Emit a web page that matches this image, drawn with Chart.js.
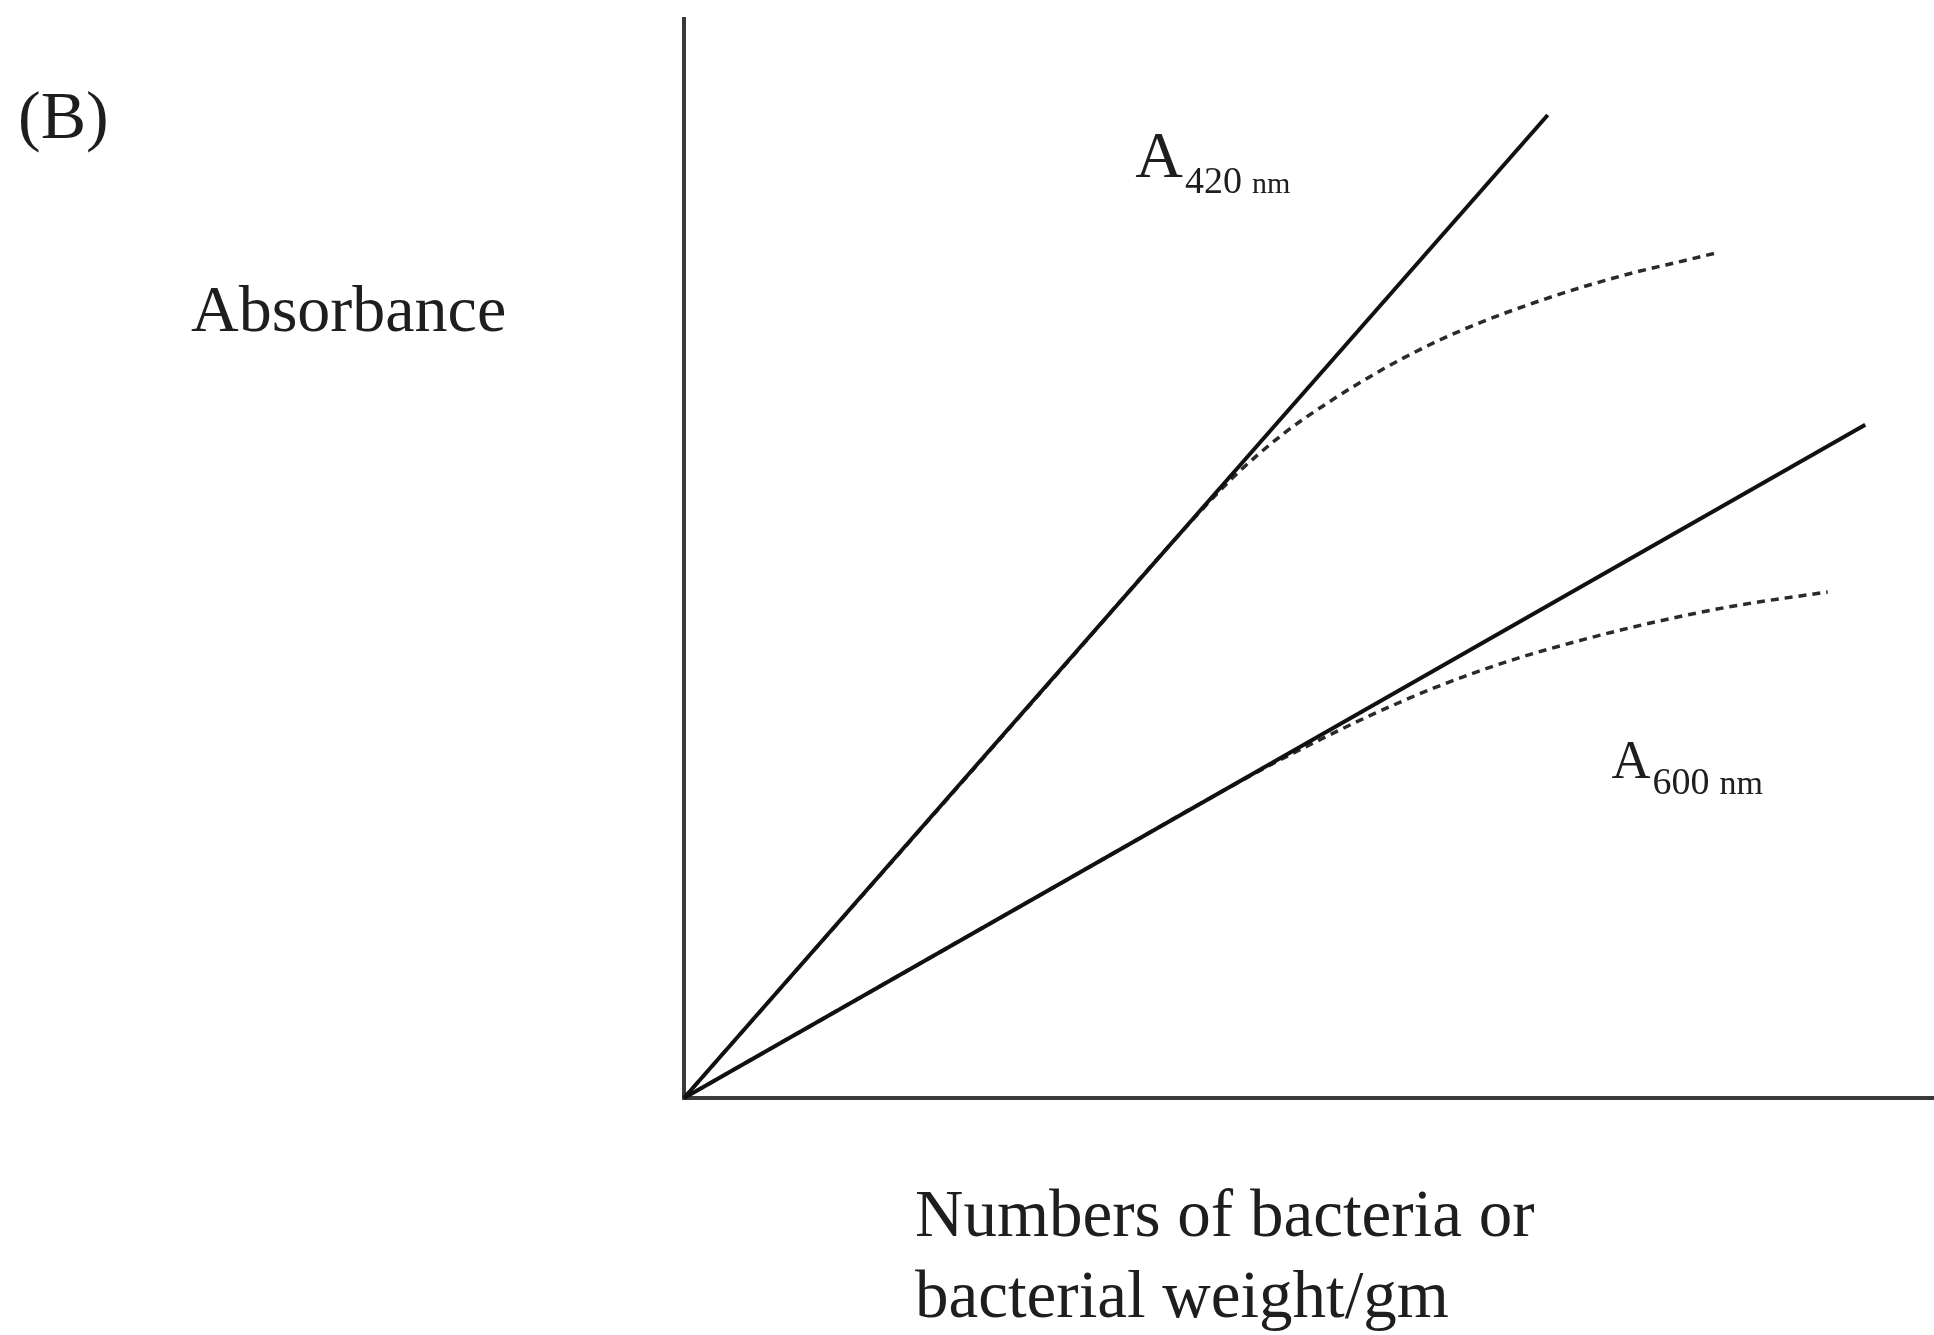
<!DOCTYPE html>
<html>
<head>
<meta charset="utf-8">
<title>Absorbance vs bacteria</title>
<script src="https://cdn.jsdelivr.net/npm/chart.js@4.4.1/dist/chart.umd.min.js"></script>
<style>
  html, body { margin: 0; padding: 0; background: #ffffff; }
  canvas { display: block; }
</style>
</head>
<body>
<canvas id="c" width="1934" height="1335"></canvas>
<script>
// Linear response at 420 nm (straight line from the origin)
const lin420X = [0, 69.1];
const lin420Y = [0, 91.1];
// Linear response at 600 nm
const lin600X = [0, 94.5];
const lin600Y = [0, 62.4];
// Observed (saturating) response at 420 nm
const obs420X = [0, 30, 40, 44, 48, 52, 56, 60, 64, 68, 72, 76, 80, 82.5];
const obs420Y = [0, 39.5, 52.7, 57.6, 61.6, 64.8, 67.6, 70.0, 72.0, 73.7, 75.2, 76.5, 77.6, 78.3];
// Observed (saturating) response at 600 nm
const obs600X = [0, 30, 46, 50, 55, 60, 66, 72, 78, 84, 91.5];
const obs600Y = [0, 19.8, 30.3, 32.7, 35.5, 38.0, 40.5, 42.5, 44.2, 45.6, 46.9];

const curveLabels = ['A', 'A'];
const curveSubs = ['420', '600'];
const curveUnits = ['nm', 'nm'];
const panelLabel = '(B)';
const yTitle = 'Absorbance';
const xTitleLines = ['Numbers of bacteria or', 'bacterial weight/gm'];

const pts = (xs, ys) => xs.map((x, i) => ({ x: x, y: ys[i] }));

const SERIF = '"Liberation Serif", "DejaVu Serif", serif';
const INK = '#1e1e1e';

// where each wavelength label sits, in data units (baseline-left of the "A")
const labelAnchors = [
  { x: 36.1, y: 85.4, big: 66, sub: 38, unit: 30, gap: 10 },
  { x: 74.2, y: 29.7, big: 54, sub: 38, unit: 34, gap: 10 }
];

const textPlugin = {
  id: 'chartText',
  afterDraw(chart) {
    const ctx = chart.ctx;
    const xs = chart.scales.x, ys = chart.scales.y;
    ctx.save();
    ctx.fillStyle = INK;
    ctx.textBaseline = 'alphabetic';
    ctx.textAlign = 'left';

    // panel letter and y title
    ctx.font = '68px ' + SERIF;
    ctx.fillText(panelLabel, 18, 138);
    ctx.font = '66px ' + SERIF;
    ctx.fillText(yTitle, 191, 331);

    // x title, two left-aligned lines
    ctx.font = '67px ' + SERIF;
    ctx.fillText(xTitleLines[0], 915, 1236);
    ctx.fillText(xTitleLines[1], 915, 1317);

    // wavelength labels
    labelAnchors.forEach((a, i) => {
      let px = xs.getPixelForValue(a.x);
      const py = ys.getPixelForValue(a.y);
      ctx.font = a.big + 'px ' + SERIF;
      ctx.fillText(curveLabels[i], px, py);
      px += ctx.measureText(curveLabels[i]).width + 2;
      ctx.font = a.sub + 'px ' + SERIF;
      ctx.fillText(curveSubs[i], px, py + 16);
      px += ctx.measureText(curveSubs[i]).width + a.gap;
      ctx.font = a.unit + 'px ' + SERIF;
      ctx.fillText(curveUnits[i], px, py + 16);
    });
    ctx.restore();
  }
};

const solid = { borderColor: '#111111', borderWidth: 4, pointRadius: 0, showLine: true, fill: false, clip: false, tension: 0 };
const dashed = { borderColor: '#2a2a2a', borderWidth: 3.5, borderDash: [8, 6], pointRadius: 0, showLine: true, fill: false, clip: false, cubicInterpolationMode: 'monotone' };

new Chart(document.getElementById('c'), {
  type: 'scatter',
  data: {
    datasets: [
      Object.assign({ label: 'A420 linear', data: pts(lin420X, lin420Y) }, solid),
      Object.assign({ label: 'A600 linear', data: pts(lin600X, lin600Y) }, solid),
      Object.assign({ label: 'A420 observed', data: pts(obs420X, obs420Y) }, dashed),
      Object.assign({ label: 'A600 observed', data: pts(obs600X, obs600Y) }, dashed)
    ]
  },
  options: {
    responsive: false,
    animation: false,
    devicePixelRatio: 1,
    layout: { padding: { left: 684, top: 19, right: 0, bottom: 237 } },
    plugins: { legend: { display: false }, tooltip: { enabled: false }, title: { display: false } },
    scales: {
      x: {
        type: 'linear', min: 0, max: 100,
        grid: { display: false, drawTicks: false },
        ticks: { display: false },
        border: { display: true, color: '#3a3a3a', width: 4 }
      },
      y: {
        type: 'linear', min: 0, max: 100,
        grid: { display: false, drawTicks: false },
        ticks: { display: false },
        border: { display: true, color: '#3a3a3a', width: 4 }
      }
    }
  },
  plugins: [textPlugin]
});
</script>
</body>
</html>
